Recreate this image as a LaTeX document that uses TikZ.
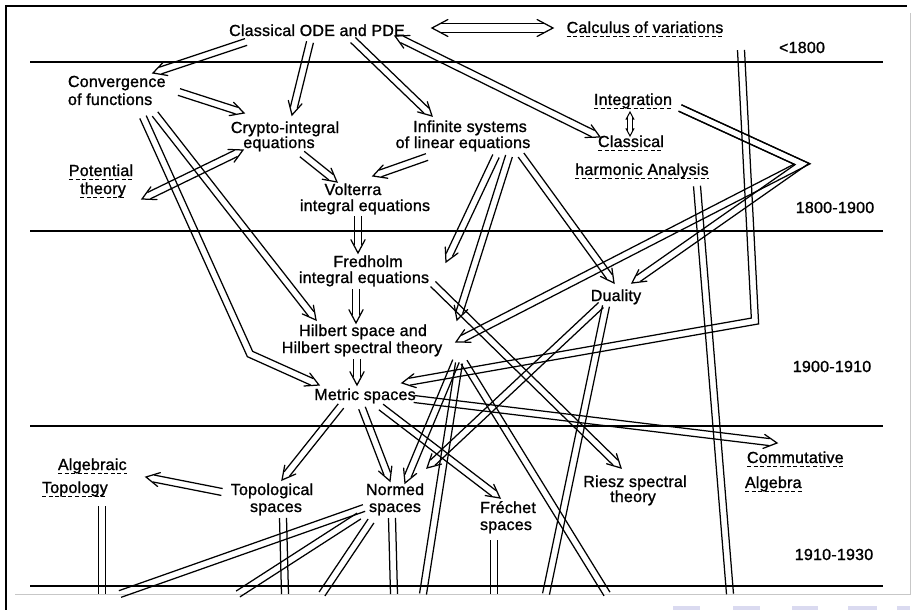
\documentclass[tikz,border=0pt]{standalone}
\usepackage{fontspec}
\setmainfont{Liberation Sans}
\newfontfamily\lett[FakeBold=1.2,LetterSpace=1.5]{Liberation Sans}
\usetikzlibrary{calc}
\definecolor{lav}{RGB}{218,218,240}
\tikzset{
  hl/.store in=\hl, sh/.store in=\sh, o/.store in=\o,
  hl=15pt, sh=7.7pt, o=3.5pt,
  lbl/.style={inner sep=0pt, outer sep=0pt, font=\lett\fontsize{16}{18}\selectfont, anchor=base},
  lblw/.style={lbl, anchor=base west},
  era/.style={line width=1.7pt},
  uline/.style={line width=0.9pt, dash pattern=on 4pt off 2.6pt},
  rail/.style={line width=1.25pt, line cap=butt, line join=miter},
  head/.style={line width=1.25pt, line join=miter, line cap=round},
}
% straight double arrow from #2 to a tip at #3
\newcommand\fwd[3][]{%
  \begin{scope}[#1]
    \coordinate (tmpE) at ($(#3)!\sh!(#2)$);
    \draw[rail] ($(#2)!\o!90:(#3)$) -- ($(tmpE)!\o!-90:(#2)$);
    \draw[rail] ($(#2)!\o!-90:(#3)$) -- ($(tmpE)!\o!90:(#2)$);
    \draw[head] ($(#3)!\hl!28:(#2)$) -- (#3) -- ($(#3)!\hl!-28:(#2)$);
  \end{scope}}
% double arrow with one bend: start #2, bend #3, tip #4
\newcommand\bend[4][]{%
  \begin{scope}[#1]
    \coordinate (tmpE) at ($(#4)!\sh!(#3)$);
    \coordinate (l1a) at ($(#2)!\o!90:(#3)$);
    \coordinate (l1b) at ($(#3)!\o!-90:(#2)$);
    \coordinate (l2a) at ($(#3)!\o!90:(#4)$);
    \coordinate (l2b) at ($(#4)!\o!-90:(#3)$);
    \coordinate (r1a) at ($(#2)!\o!-90:(#3)$);
    \coordinate (r1b) at ($(#3)!\o!90:(#2)$);
    \coordinate (r2a) at ($(#3)!\o!-90:(#4)$);
    \coordinate (r2b) at ($(#4)!\o!90:(#3)$);
    \draw[rail] (l1a) -- (intersection of l1a--l1b and l2a--l2b) -- ($(tmpE)!\o!-90:(#3)$);
    \draw[rail] (r1a) -- (intersection of r1a--r1b and r2a--r2b) -- ($(tmpE)!\o!90:(#3)$);
    \draw[head] ($(#4)!\hl!28:(#3)$) -- (#4) -- ($(#4)!\hl!-28:(#3)$);
  \end{scope}}
% double arrow with tips at both ends
\newcommand\both[3][]{%
  \begin{scope}[#1]
    \coordinate (tmpA) at ($(#2)!\sh!(#3)$);
    \coordinate (tmpB) at ($(#3)!\sh!(#2)$);
    \draw[rail] ($(tmpA)!\o!90:(#3)$) -- ($(tmpB)!\o!-90:(#2)$);
    \draw[rail] ($(tmpA)!\o!-90:(#3)$) -- ($(tmpB)!\o!90:(#2)$);
    \draw[head] ($(#2)!\hl!28:(#3)$) -- (#2) -- ($(#2)!\hl!-28:(#3)$);
    \draw[head] ($(#3)!\hl!28:(#2)$) -- (#3) -- ($(#3)!\hl!-28:(#2)$);
  \end{scope}}
% double line running off the lower edge of the sheet
\newcommand\runoff[2]{%
  \draw[rail] ($(#1)!\o!90:(#2)$) -- ($(#2)!\o!-90:(#1)$);
  \draw[rail] ($(#1)!\o!-90:(#2)$) -- ($(#2)!\o!90:(#1)$);}

\begin{document}
\begin{tikzpicture}[x=1pt,y=-1pt]
\useasboundingbox (0,0) rectangle (922,610);
\fill[white] (0,0) rectangle (922,610);

% sheet frame
\draw[line width=1.1pt] (6,610) -- (6,6) -- (907,6);
\draw[black!22, line width=1pt] (910,13) -- (910,594) -- (15,594);
\foreach \x/\w in {673/27,733/27,792/26,848/29,897/13}
  \fill[lav] (\x,606) rectangle ++(\w,5);

% period rules
\foreach \y in {62,231,426,586} \draw[era] (30,\y) -- (883,\y);

% labels
\node[lbl] (ode)   at (317,36)  {Classical ODE and PDE};
\node[lbl] (calc)  at (645,33)  {Calculus of variations};
\node[lbl] (p1800) at (802,53)  {<1800};
\node[lblw] (conv1) at (68,87)  {Convergence};
\node[lblw] (conv2) at (68,105) {of functions};
\node[lbl] (cry1)  at (285,133) {Crypto-integral};
\node[lbl] (cry2)  at (279,148) {equations};
\node[lbl] (inf1)  at (470,132) {Infinite systems};
\node[lbl] (inf2)  at (463,148) {of linear equations};
\node[lbl] (integ) at (633,105) {Integration};
\node[lbl] (clas)  at (631,147) {Classical};
\node[lbl] (harm)  at (642,175) {harmonic Analysis};
\node[lbl] (pot1)  at (101,176) {Potential};
\node[lbl] (pot2)  at (103,194) {theory};
\node[lbl] (volt1) at (353,195) {Volterra};
\node[lbl] (volt2) at (365,211) {integral equations};
\node[lbl] (p1900) at (835,213) {1800-1900};
\node[lbl] (fred1) at (368,267) {Fredholm};
\node[lbl] (fred2) at (364,283) {integral equations};
\node[lbl] (dual)  at (616,301) {Duality};
\node[lbl] (hilb1) at (363,336) {Hilbert space and};
\node[lbl] (hilb2) at (362,353) {Hilbert spectral theory};
\node[lbl] (p1910) at (832,372) {1900-1910};
\node[lbl] (met)   at (365,400) {Metric spaces};
\node[lblw] (alg1) at (58,470)  {Algebraic};
\node[lblw] (alg2) at (42,493)  {Topology};
\node[lbl] (top1)  at (272,495) {Topological};
\node[lbl] (top2)  at (276,512) {spaces};
\node[lbl] (norm1) at (395,495) {Normed};
\node[lbl] (norm2) at (395,512) {spaces};
\node[lbl] (fre1)  at (508,513) {Fréchet};
\node[lbl] (fre2)  at (506,530) {spaces};
\node[lbl] (rie1)  at (635,487) {Riesz spectral};
\node[lbl] (rie2)  at (633,502) {theory};
\node[lblw] (com1) at (747,463) {Commutative};
\node[lblw] (com2) at (745,488) {Algebra};
\node[lbl] (p1930) at (834,560) {1910-1930};

% dashed underlines of the neighbouring fields
\foreach \n in {calc,integ,clas,harm,pot1,pot2,alg1,alg2,com1,com2}
  \draw[uline] ($(\n.base west)+(0,3)$) -- ($(\n.base east)+(0,3)$);

% connector ends
\coordinate (a1s) at ($(ode.base)+(115,-8)$);
\coordinate (a1e) at ($(calc.base)+(-92,-5)$);
\coordinate (a2s) at ($(ode.base)+(-71,6)$);
\coordinate (a2e) at ($(conv1.base west)+(85,-14)$);
\coordinate (a3s) at ($(ode.base)+(-7,6)$);
\coordinate (a3e) at ($(cry1.base)+(7,-18)$);
\coordinate (a4s) at ($(ode.base)+(36,4)$);
\coordinate (a4e) at ($(inf1.base)+(-38,-16)$);
\coordinate (a5s) at ($(ode.base)+(78,0)$);
\coordinate (a5e) at ($(clas.base)+(-31,-10)$);
\coordinate (a6s) at ($(integ.base)+(-3,7)$);
\coordinate (a6e) at ($(clas.base)+(-1,-11)$);
\coordinate (a7s) at ($(conv2.base west)+(111,-13)$);
\coordinate (a7e) at ($(cry1.base)+(-41,-20)$);
\coordinate (a8s) at ($(conv2.base west)+(87,9)$);
\coordinate (a8e) at ($(hilb1.base)+(-47,-16)$);
\coordinate (a9s) at ($(conv2.base west)+(75,12)$);
\coordinate (a9k) at ($(hilb2.base)+(-112,1)$);
\coordinate (a9e) at ($(met.base)+(-46,-15)$);
\coordinate (b1s) at ($(pot2.base)+(39,5)$);
\coordinate (b1e) at ($(cry2.base)+(-36,2)$);
\coordinate (b2s) at ($(cry2.base)+(23,6)$);
\coordinate (b2e) at ($(volt1.base)+(-16,-13)$);
\coordinate (b3s) at ($(inf2.base)+(-36,9)$);
\coordinate (b3e) at ($(volt1.base)+(20,-19)$);
\coordinate (b4s) at ($(volt2.base)+(-7,5)$);
\coordinate (b4e) at ($(fred1.base)+(-10,-14)$);
\coordinate (b5s) at ($(fred2.base)+(-8,6)$);
\coordinate (b5e) at ($(hilb1.base)+(-7,-13)$);
\coordinate (b6s) at ($(hilb2.base)+(-5,6)$);
\coordinate (b6e) at ($(met.base)+(-8,-15)$);
\coordinate (c1s) at ($(inf2.base)+(33,8)$);
\coordinate (c1e) at ($(fred1.base)+(78,-5)$);
\coordinate (c2s) at ($(inf2.base)+(46,8)$);
\coordinate (c2e) at ($(hilb1.base)+(94,-16)$);
\coordinate (c3s) at ($(inf2.base)+(58,7)$);
\coordinate (c3e) at ($(dual.base)+(-2,-18)$);
\coordinate (d1s) at ($(integ.base)+(47,3)$);
\coordinate (d1k) at ($(harm.base)+(160,-11)$);
\coordinate (d1e) at ($(dual.base)+(16,-18)$);
\coordinate (d2e) at ($(hilb2.base)+(94,-11)$);
\coordinate (e1s) at ($(calc.base)+(96,17)$);
\coordinate (e1k) at ($(dual.base)+(139,20)$);
\coordinate (e1e) at ($(met.base)+(37,-17)$);
\coordinate (e2s) at ($(harm.base)+(55,11)$);
\coordinate (e2e) at (730,594);
\coordinate (f1s) at ($(met.base)+(-24,6)$);
\coordinate (f1e) at ($(top1.base)+(10,-15)$);
\coordinate (f2s) at ($(met.base)+(-3,8)$);
\coordinate (f2e) at ($(norm1.base)+(-5,-14)$);
\coordinate (f3s) at ($(met.base)+(16,7)$);
\coordinate (f3e) at ($(fre1.base)+(-8,-15)$);
\coordinate (f4s) at ($(met.base)+(49,-1)$);
\coordinate (f4e) at ($(com1.base west)+(30,-20)$);
\coordinate (g1s) at ($(fred2.base)+(69,1)$);
\coordinate (g1e) at ($(rie1.base)+(-14,-19)$);
\coordinate (g2s) at ($(hilb2.base)+(94,8)$);
\coordinate (g2e) at ($(norm1.base)+(10,-12)$);
\coordinate (g3s) at ($(dual.base)+(-15,4)$);
\coordinate (g3e) at ($(norm1.base)+(32,-27)$);
\coordinate (h1s) at ($(top1.base)+(-50,-3)$);
\coordinate (h1e) at ($(alg1.base west)+(88,7)$);
% ends running off the lower edge
\coordinate (r1s) at ($(alg2.base west)+(60,13)$);  \coordinate (r1e) at (102,594);
\coordinate (r2s) at ($(top2.base)+(7,6)$);         \coordinate (r2e) at (285,594);
\coordinate (r3s) at ($(norm2.base)+(-3,6)$);       \coordinate (r3e) at (394,594);
\coordinate (r4s) at ($(norm2.base)+(-31,-4)$);     \coordinate (r4e) at (120,594);
\coordinate (r5s) at ($(norm2.base)+(-36,4)$);      \coordinate (r5e) at (238,594);
\coordinate (r6s) at ($(norm2.base)+(-24,9)$);      \coordinate (r6e) at (322,594);
\coordinate (r7s) at ($(fre2.base)+(-12,10)$);      \coordinate (r7e) at (494,594);
\coordinate (r8s) at ($(hilb2.base)+(97,10)$);      \coordinate (r8e) at (423,594);
\coordinate (r9s) at ($(hilb2.base)+(102,9)$);      \coordinate (r9e) at (607,594);
\coordinate (r10s) at ($(dual.base)+(-10,5)$);      \coordinate (r10e) at (546,594);

% connectors
\both[o=4.3pt,hl=18pt,sh=9.3pt]{a1s}{a1e}
\fwd{a2s}{a2e}
\fwd{a3s}{a3e}
\fwd{a4s}{a4e}
\both{a5s}{a5e}
\both[o=2.4pt,hl=8.5pt,sh=5.5pt,rail/.append style={line width=1pt},head/.append style={line width=1pt}]{a6s}{a6e}
\fwd{a7s}{a7e}
\fwd{a8s}{a8e}
\bend{a9s}{a9k}{a9e}
\both{b1s}{b1e}
\fwd{b2s}{b2e}
\fwd{b3s}{b3e}
\fwd{b4s}{b4e}
\fwd{b5s}{b5e}
\fwd{b6s}{b6e}
\fwd{c1s}{c1e}
\fwd{c2s}{c2e}
\fwd{c3s}{c3e}
\bend{d1s}{d1k}{d1e}
\bend{d1s}{d1k}{d2e}
\bend{e1s}{e1k}{e1e}
\runoff{e2s}{e2e}
\fwd{f1s}{f1e}
\fwd{f2s}{f2e}
\fwd{f3s}{f3e}
\fwd{f4s}{f4e}
\fwd{g1s}{g1e}
\fwd{g2s}{g2e}
\fwd{g3s}{g3e}
\fwd{h1s}{h1e}
\foreach \i in {1,...,10} {\runoff{r\i s}{r\i e}}
\end{tikzpicture}
\end{document}
